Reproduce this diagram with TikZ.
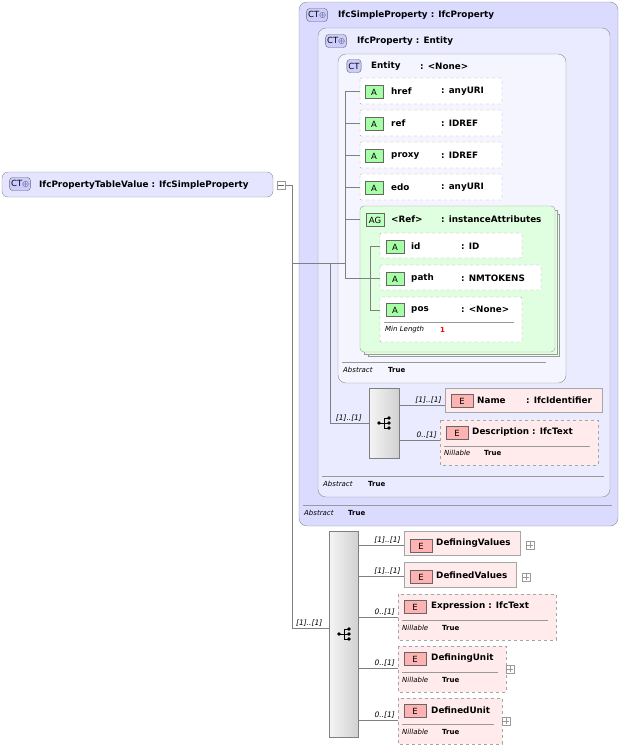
\documentclass[tikz,border=0pt]{standalone}
\usepackage{fontspec}
\setmainfont{DejaVu Sans}
\begin{document}
\begin{tikzpicture}[x=1pt,y=-1pt,
  lbl/.style={font=\fontsize{8.8}{10}\selectfont\bfseries,anchor=west,inner sep=0,yshift=-1.5pt},
  sml/.style={font=\fontsize{7}{8}\selectfont\itshape,anchor=west,inner sep=0},
  smb/.style={font=\fontsize{7}{8}\selectfont\bfseries,anchor=west,inner sep=0},
  ct/.style={draw=black!45,rounded corners=7pt,fill=blue!10},
  ctbadge/.style={draw=black!60,rounded corners=3pt,fill=blue!20,font=\fontsize{8.5}{9}\selectfont,inner sep=1.5pt,minimum height=13pt},
  att/.style={draw=black!35,dashed,fill=white,rounded corners=1pt},
  abadge/.style={draw=black!60,fill=green!35,font=\fontsize{8.5}{9}\selectfont,inner sep=1pt,minimum width=18pt,minimum height=13pt},
  el/.style={draw=black!35,fill=red!8},
  eld/.style={draw=black!35,dashed,fill=red!8},
  ebadge/.style={draw=black!60,fill=red!30,font=\fontsize{8.5}{9}\selectfont,inner sep=1pt,minimum width=22pt,minimum height=13pt},
  seq/.style={draw=black!50,left color=black!4,right color=black!18},
  conn/.style={draw=black!50,line width=0.5pt},
  card/.style={font=\fontsize{7.5}{8}\selectfont\itshape,inner sep=1pt,anchor=south east},
  plus/.style={draw=black!40,fill=white,minimum size=8pt,inner sep=0},
  seqicon/.pic={\fill (-5,0) circle (1.8);\draw[line width=0.8pt] (-5,0)--(0,0) (0,-5)--(0,5) (0,-5)--(5,-5) (0,0)--(5,0) (0,5)--(5,5);\fill (5,-5) circle(1.8) (5,0) circle(1.8) (5,5) circle(1.8);}
]
\useasboundingbox (0,0) rectangle (622,750);

% ---------- root
\draw[ct,rounded corners=6pt] (2,172) rectangle (273,197);
\node[ctbadge] (rb) at (20,184) {CT$\oplus$};
\node[lbl] (root) at (39,184) {IfcPropertyTableValue : IfcSimpleProperty};
\node[plus] (rp) at (281,185) {};
\draw[black!60] (278,185)--(284,185);
\coordinate (j0) at (292,185);
\draw[conn] (rp.east) -- (j0) -- (292,628);
\coordinate (j1) at (292,263);

% ---------- IfcSimpleProperty
\draw[ct,fill=blue!14,rounded corners=8pt] (299,2) rectangle (618,526);
\node[ctbadge] at (317,15) {CT$\oplus$};
\node[lbl] at (338,14) {IfcSimpleProperty : IfcProperty};
\draw[black!40] (303,505) -- (612,505);
\node[sml] at (304,513) {Abstract};
\node[smb] at (348,513) {True};

% ---------- IfcProperty
\draw[ct,fill=blue!8,rounded corners=8pt] (318,28) rectangle (610,497);
\node[ctbadge] at (336,41) {CT$\oplus$};
\node[lbl] at (357,40) {IfcProperty : Entity};
\draw[black!40] (322,476) -- (604,476);
\node[sml] at (323,484) {Abstract};
\node[smb] at (368,484) {True};

% ---------- Entity
\draw[ct,fill=blue!4,rounded corners=8pt] (338,54) rectangle (566,383);
\node[ctbadge] at (354,66) {CT};
\node[lbl] at (371,65) {Entity};
\node[lbl] at (420,65) {: <None>};
\draw[black!40] (342,362) -- (546,362);
\node[sml] at (343,370) {Abstract};
\node[smb] at (388,370) {True};

\draw[conn] (j1) -- (330,263);
\draw[conn] (330,263) -- (330,423);
\draw[conn] (330,263) -- (345,263);
\draw[conn] (345,91) -- (345,278);

% attributes
\foreach \y/\n/\t/\w in {78/href/anyURI/502,110/ref/IDREF/502,142/proxy/IDREF/502,174/edo/anyURI/502}{
  \draw[att] (360,\y) rectangle (\w,\y+26);
  \node[abadge] at (374,\y+14) {A};
  \node[lbl] at (391,\y+12) {\n};
  \node[lbl] at (441,\y+12) {: \t};
  \draw[conn] (345,\y+13) -- (360,\y+13);
}

% AG
\draw[black!40,fill=green!8] (368,214) rectangle (559,356);
\draw[black!40,fill=green!10] (364,210) rectangle (557,354);
\draw[black!40,fill=green!12,rounded corners=4pt] (360,206) rectangle (555,352);
\draw[conn] (345,219) -- (360,219);
\node[abadge,fill=green!25] at (375,220) {AG};
\node[lbl] at (391,218) {<Ref>};
\node[lbl] at (441,218) {: instanceAttributes};
\draw[conn] (345,278) -- (370,278);
\draw[conn] (370,246) -- (370,310);
\foreach \y/\n/\t/\w in {233/id/ID/522,265/path/NMTOKENS/541}{
  \draw[att] (380,\y) rectangle (\w,\y+25);
  \node[abadge] at (395,\y+14) {A};
  \node[lbl] at (411,\y+12) {\n};
  \node[lbl] at (461,\y+12) {: \t};
  \draw[conn] (370,\y+13) -- (380,\y+13);
}
\draw[att] (380,297) rectangle (522,342);
\node[abadge] at (395,310) {A};
\node[lbl] at (411,308) {pos};
\node[lbl] at (461,308) {: <None>};
\draw[black!40] (384,322) -- (514,322);
\node[sml] at (385,330) {Min Length};
\node[smb,red] at (440,330) {1};
\draw[conn] (370,310) -- (380,310);

% ---------- sequence 1
\draw[seq] (369,388) rectangle (399,458);
\pic at (384,423) {seqicon};
\draw[conn] (330,423) -- (369,423) node[card,pos=0.85] {[1]..[1]};
\draw[conn] (399,405) -- (445,405) node[card,pos=0.95] {[1]..[1]};
\draw[conn] (399,440) -- (440,440) node[card,pos=0.95] {0..[1]};
\draw[el] (445,388) rectangle (602,412);
\node[ebadge] at (462,401) {E};
\node[lbl] at (477,399) {Name};
\node[lbl] at (526,399) {: IfcIdentifier};
\draw[eld] (440,420) rectangle (598,465);
\node[ebadge] at (457,433) {E};
\node[lbl] at (472,431) {Description : IfcText};
\draw[black!40] (444,446) -- (590,446);
\node[sml] at (444,453) {Nillable};
\node[smb] at (484,453) {True};

% ---------- sequence 2
\draw[seq] (329,531) rectangle (358,737);
\pic at (344,634) {seqicon};
\draw[conn] (292,628) -- (329,628) node[card,pos=0.85] {[1]..[1]};

\draw[conn] (358,545) -- (404,545) node[card,pos=0.95] {[1]..[1]};
\draw[el] (404,531) rectangle (520,555);
\node[ebadge] at (421,546) {E};
\node[lbl] at (436,542) {DefiningValues};
\node[plus] at (530,545) {}; \draw[black!40] (527,545)--(533,545) (530,542)--(530,548);

\draw[conn] (358,576) -- (404,576) node[card,pos=0.95] {[1]..[1]};
\draw[el] (404,562) rectangle (516,587);
\node[ebadge] at (421,577) {E};
\node[lbl] at (436,574) {DefinedValues};
\node[plus] at (526,577) {}; \draw[black!40] (523,577)--(529,577) (526,574)--(526,580);

\draw[conn] (358,617) -- (398,617) node[card,pos=0.95] {0..[1]};
\draw[eld] (398,594) rectangle (556,640);
\node[ebadge] at (415,607) {E};
\node[lbl] at (431,605) {Expression : IfcText};
\draw[black!40] (402,620) -- (548,620);
\node[sml] at (402,628) {Nillable};
\node[smb] at (442,628) {True};

\draw[conn] (358,668) -- (398,668) node[card,pos=0.95] {0..[1]};
\draw[eld] (398,646) rectangle (506,692);
\node[ebadge] at (415,659) {E};
\node[lbl] at (431,657) {DefiningUnit};
\draw[black!40] (402,672) -- (498,672);
\node[sml] at (402,680) {Nillable};
\node[smb] at (442,680) {True};
\node[plus] at (510,669) {}; \draw[black!40] (507,669)--(513,669) (510,666)--(510,672);

\draw[conn] (358,720) -- (398,720) node[card,pos=0.95] {0..[1]};
\draw[eld] (398,698) rectangle (502,744);
\node[ebadge] at (415,711) {E};
\node[lbl] at (431,709) {DefinedUnit};
\draw[black!40] (402,724) -- (494,724);
\node[sml] at (402,732) {Nillable};
\node[smb] at (442,732) {True};
\node[plus] at (506,721) {}; \draw[black!40] (503,721)--(509,721) (506,718)--(506,724);
\end{tikzpicture}
\end{document}
